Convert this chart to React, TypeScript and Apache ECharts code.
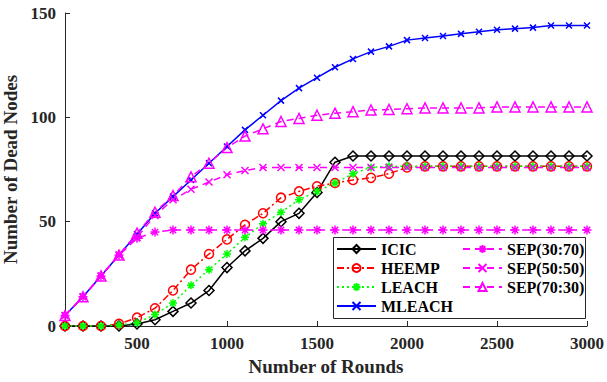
import React, { useEffect, useRef } from "react";
import * as echarts from "echarts";

// Rounds at which the dead-node count was sampled
const rounds = [
  100, 200, 300, 400, 500, 600, 700, 800, 900, 1000,
  1100, 1200, 1300, 1400, 1500, 1600, 1700, 1800, 1900, 2000,
  2100, 2200, 2300, 2400, 2500, 2600, 2700, 2800, 2900, 3000,
];

const icic = [
  0, 0, 0, 0, 1, 3, 7, 11, 17, 28,
  36, 42, 50, 54, 64, 78.5, 81.5, 81.5, 81.5, 81.5,
  81.5, 81.5, 81.5, 81.5, 81.5, 81.5, 81.5, 81.5, 81.5, 81.5,
];
const heemp = [
  0, 0, 0, 1, 4, 8.5, 17, 27, 34.5, 41.5,
  48.5, 54, 61.5, 64.5, 67, 68.5, 70, 71, 73, 76,
  76.5, 76.5, 76.5, 76.5, 76.5, 76.5, 76.5, 76.5, 76.5, 76.5,
];
const leach = [
  0, 0, 0, 0.5, 1.5, 5.5, 11, 19.5, 27, 34.5,
  42.5, 49, 54.5, 60.5, 64.5, 68.5, 73, 76, 76.5, 76.5,
  76.5, 76.5, 76.5, 76.5, 76.5, 76.5, 76.5, 76.5, 76.5, 76.5,
];
const mleach = [
  5, 14, 24, 34, 44, 54, 62, 70, 78, 86,
  94, 101, 108, 114, 119, 124, 128, 131.5, 134, 137,
  138, 139, 140, 141, 142, 142.5, 143, 144, 144, 144,
];
const sep3070 = [
  5, 14, 24, 34, 42, 45, 46, 46, 46, 46,
  46, 46, 46, 46, 46, 46, 46, 46, 46, 46,
  46, 46, 46, 46, 46, 46, 46, 46, 46, 46,
];
const sep5050 = [
  5, 14, 24, 34, 42.5, 53, 60.5, 65.5, 69, 72.5,
  74.5, 76, 76, 76, 76, 76, 76, 76, 76, 76,
  76, 76, 76, 76, 76, 76, 76, 76, 76, 76,
];
const sep7030 = [
  5, 14, 24, 34, 44.5, 54.5, 62.5, 71.5, 78, 85.5,
  91, 94.5, 98, 99.5, 101, 102, 102.7, 103.5, 103.8, 104.1,
  104.5, 104.5, 104.5, 104.5, 105, 105, 105, 105, 105, 105,
];

const xTicks = [500, 1000, 1500, 2000, 2500, 3000];

const FONT = "'Liberation Serif', 'Times New Roman', serif";
const AXIS_COLOR = "#262626";

const STAR = "path://M0,-10L0,10M-10,0L10,0M-7,-7L7,7M-7,7L7,-7";
const CROSS = "path://M-10,-10L10,10M-10,10L10,-10";

type Spec = {
  name: string;
  values: number[];
  color: string;
  dash: "solid" | number[];
  symbol: string;
  size: number;
  open: boolean;
};

const specs: Spec[] = [
  { name: "ICIC", values: icic, color: "#000000", dash: "solid", symbol: "diamond", size: 10, open: true },
  { name: "HEEMP", values: heemp, color: "#ff0000", dash: [7, 3, 2, 3], symbol: "circle", size: 9, open: true },
  { name: "LEACH", values: leach, color: "#00ff00", dash: [2, 3], symbol: STAR, size: 8, open: false },
  { name: "MLEACH", values: mleach, color: "#0000ff", dash: "solid", symbol: CROSS, size: 6, open: false },
  { name: "SEP(30:70)", values: sep3070, color: "#ff00ff", dash: [7, 5], symbol: STAR, size: 9, open: false },
  { name: "SEP(50:50)", values: sep5050, color: "#ff00ff", dash: [7, 5], symbol: CROSS, size: 7, open: false },
  { name: "SEP(70:30)", values: sep7030, color: "#ff00ff", dash: [7, 5], symbol: "triangle", size: 10, open: true },
];

export default function App() {
  const ref = useRef<HTMLDivElement>(null);

  useEffect(() => {
    if (!ref.current) return;
    const chart = echarts.init(ref.current, null, { renderer: "svg" });

    const series = specs.map((s) => ({
      name: s.name,
      type: "line",
      data: rounds.map((r, i) => [r, s.values[i]]),
      symbol: s.symbol,
      symbolSize: s.size,
      showAllSymbol: true,
      clip: false,
      lineStyle: { color: s.color, width: 1.5, type: s.dash },
      itemStyle: {
        color: s.open ? "rgba(255,255,255,0)" : s.color,
        borderColor: s.color,
        borderWidth: 1.5,
      },
      emphasis: { disabled: true },
      silent: true,
    }));

    const legendCommon = {
      orient: "vertical",
      padding: 0,
      itemGap: 3,
      itemWidth: 39,
      itemHeight: 10,
      selectedMode: false,
      z: 20,
      textStyle: {
        fontFamily: FONT,
        fontWeight: "bold",
        fontSize: 16,
        lineHeight: 16,
        color: "#000000",
      },
    };

    const labelStyle = {
      fontFamily: FONT,
      fontWeight: "bold",
      fontSize: 17,
      color: AXIS_COLOR,
      formatter: (v: number) => String(v),
    };

    chart.setOption({
      animation: false,
      backgroundColor: "#ffffff",
      grid: { left: 65, right: 20, top: 13, bottom: 56, outerBoundsMode: "none" },
      xAxis: {
        type: "value",
        min: 100,
        max: 3000,
        name: "Number of Rounds",
        nameLocation: "middle",
        nameGap: 31,
        nameTextStyle: { fontFamily: FONT, fontWeight: "bold", fontSize: 19, color: AXIS_COLOR },
        axisLine: { show: true, lineStyle: { color: AXIS_COLOR, width: 1 } },
        axisTick: { show: true, inside: true, length: 5, customValues: xTicks, lineStyle: { color: AXIS_COLOR } },
        axisLabel: { ...labelStyle, margin: 9, customValues: xTicks },
        splitLine: { show: false },
      },
      yAxis: {
        type: "value",
        min: 0,
        max: 150,
        interval: 50,
        name: "Number of Dead Nodes",
        nameLocation: "middle",
        nameGap: 38,
        nameTextStyle: { fontFamily: FONT, fontWeight: "bold", fontSize: 19, color: AXIS_COLOR },
        axisLine: { show: true, lineStyle: { color: AXIS_COLOR, width: 1 } },
        axisTick: { show: true, inside: true, length: 5, lineStyle: { color: AXIS_COLOR } },
        axisLabel: { ...labelStyle, margin: 9 },
        splitLine: { show: false },
      },
      legend: [
        { ...legendCommon, left: 336, top: 241, data: specs.slice(0, 4).map((s) => s.name) },
        { ...legendCommon, left: 462, top: 241, data: specs.slice(4).map((s) => s.name) },
      ],
      graphic: [
        {
          type: "rect",
          z: 10,
          silent: true,
          shape: { x: 333.5, y: 237.5, width: 252, height: 81 },
          style: { fill: "#ffffff", stroke: AXIS_COLOR, lineWidth: 1 },
        },
      ],
      series,
    });

    return () => chart.dispose();
  }, []);

  return (
    <div
      ref={ref}
      style={{ position: "fixed", left: 0, top: 0, width: 607, height: 382 }}
    />
  );
}
